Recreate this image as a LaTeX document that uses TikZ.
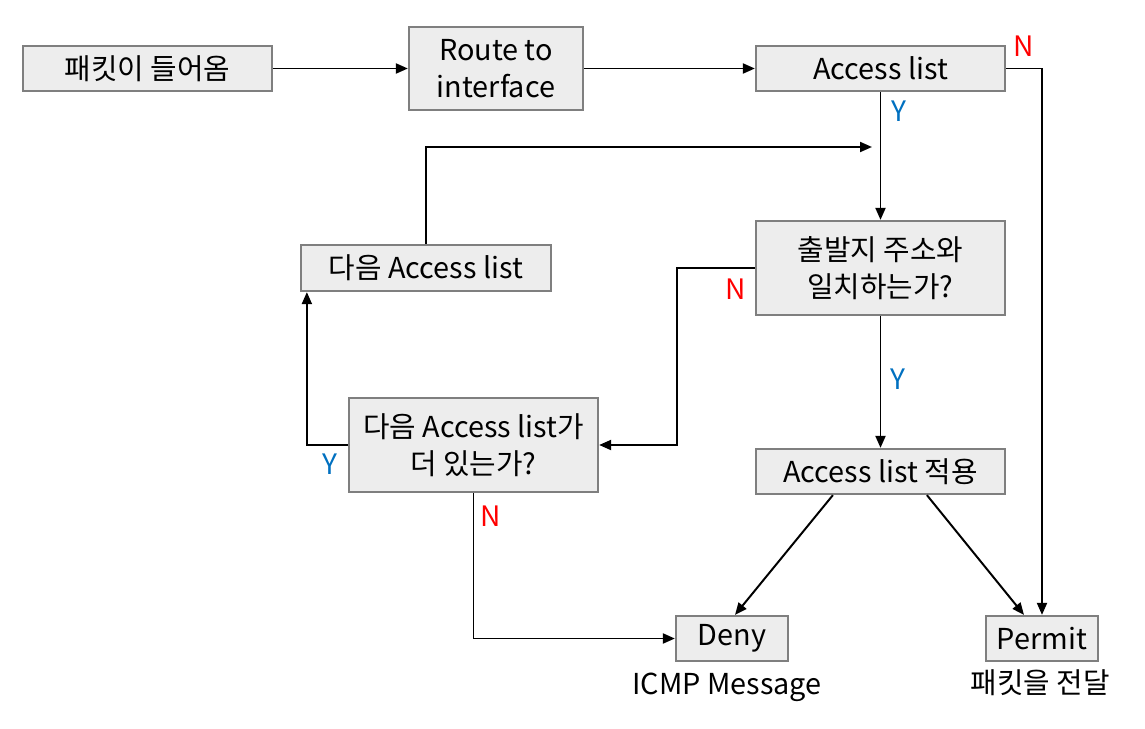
\documentclass[tikz,border=0pt]{standalone}
\usepackage{fontspec}
\setmainfont{Noto Sans CJK KR}
\usepackage{xcolor}
\definecolor{boxgray}{RGB}{237,237,237}
\definecolor{boxline}{RGB}{127,127,127}
\definecolor{yesblue}{RGB}{0,112,192}
\definecolor{nored}{RGB}{255,0,0}
\usetikzlibrary{arrows.meta}
\newcommand{\pxu}{0.025cm}
\tikzset{
  block/.style ={rectangle,draw=boxline,fill=boxgray,line width=1.6pt,
                 align=center,inner sep=0pt,font=\fontsize{20.5}{26}\selectfont},
  note/.style  ={inner sep=0pt,font=\fontsize{20.5}{26}\selectfont},
  yes/.style   ={inner sep=0pt,text=yesblue,font=\fontsize{20}{22}\selectfont},
  no/.style    ={inner sep=0pt,text=nored,font=\fontsize{20}{22}\selectfont},
  flow/.style  ={-{Triangle[length=3mm,width=2.5mm]},line width=1.4pt,draw=black},
}
\begin{document}
\begin{tikzpicture}[x=0.025cm,y=-0.025cm]
  \useasboundingbox (0,0) rectangle (1145,729);
  \node[block,minimum width=249*\pxu,minimum height=45*\pxu] (pin) at (147.5,68.5) {패킷이 들어옴};
  \node[block,minimum width=174*\pxu,minimum height=83*\pxu] (route) at (496,68.5) {Route to\\interface};
  \node[block,minimum width=249*\pxu,minimum height=45*\pxu] (acl) at (880.5,68.5) {Access list};
  \node[block,minimum width=249*\pxu,minimum height=94*\pxu] (match) at (880.5,268) {출발지 주소와\\일치하는가?};
  \node[block,minimum width=250*\pxu,minimum height=46*\pxu] (nextacl) at (426,268) {다음 Access list};
  \node[block,minimum width=249*\pxu,minimum height=94*\pxu] (more) at (473.5,445) {다음 Access list가\\더 있는가?};
  \node[block,minimum width=249*\pxu,minimum height=45*\pxu] (apply) at (880.5,471.5) {Access list 적용};
  \node[block,minimum width=112*\pxu,minimum height=45*\pxu] (deny) at (732,638.5) {Deny};
  \node[block,minimum width=112*\pxu,minimum height=45*\pxu] (permit) at (1042,638.5) {Permit};
  \node[note] (icmp) at (727,687) {ICMP Message};
  \node[note] (fwd) at (1040,683) {패킷을 전달};
  \coordinate (join) at (872,147);
  % connectors
  \draw[flow] (pin) -- (route);
  \draw[flow] (route) -- (acl);
  \draw[flow] (acl.east) -| (permit.north);
  \draw[flow] (acl) -- (match);
  \draw[flow] (nextacl.north) |- (join);
  \draw[flow] (match.west) -- ++(-78,0) |- (more.east);
  \draw[flow] (match) -- (apply);
  \draw[flow] (more.west) -| ([xshift=1.75mm]nextacl.south west);
  \draw[flow] (more.south) |- (deny.west);
  \draw[flow] ([xshift=-11.9mm]apply.south) -- ([xshift=0.75mm]deny.north);
  \draw[flow] ([xshift=11.6mm]apply.south) -- ([xshift=-4.5mm]permit.north);
  % labels
  \node[no] (n1) at (1024,46) {N};
  \node[yes] (y1) at (899,111) {Y};
  \node[no] (n2) at (736,289) {N};
  \node[yes] (y2) at (898,379) {Y};
  \node[yes] (y3) at (330,464) {Y};
  \node[no] (n3) at (491,516) {N};
\end{tikzpicture}
\end{document}
